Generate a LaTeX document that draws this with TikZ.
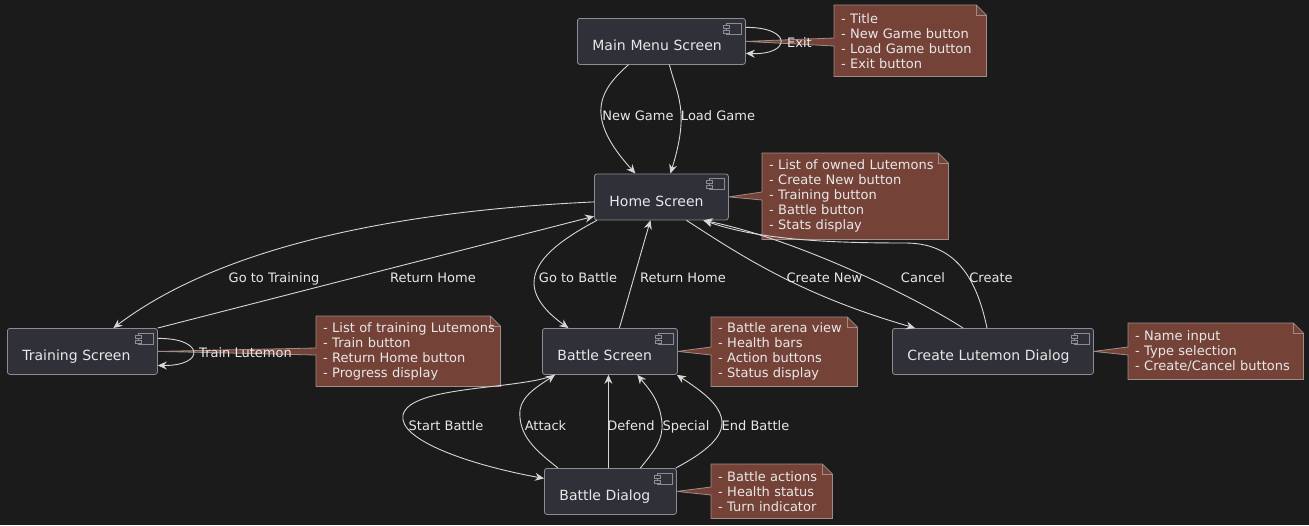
\documentclass[tikz,border=0pt]{standalone}
\usepackage{fontspec}
\setmainfont{DejaVu Sans}
\usetikzlibrary{arrows.meta,calc}
\definecolor{bgc}{RGB}{27,27,27}
\definecolor{compfill}{RGB}{48,48,56}
\definecolor{compline}{RGB}{140,140,148}
\definecolor{notefill}{RGB}{117,66,56}
\definecolor{noteline}{RGB}{160,140,135}
\definecolor{edgec}{RGB}{215,215,215}
\definecolor{txt}{RGB}{232,232,232}
\pgfdeclarelayer{bg}
\pgfsetlayers{bg,main}
\newcommand\compicon[1]{%
  \draw[icon] ($(#1.north east)+(-19,5)$) rectangle ($(#1.north east)+(-4,16)$);
  \draw[icon] ($(#1.north east)+(-22,7)$) rectangle ($(#1.north east)+(-16,10)$);
  \draw[icon] ($(#1.north east)+(-22,12)$) rectangle ($(#1.north east)+(-16,15)$);}
\newcommand\drawnote[4]{%
  \path[noteshape] (#1.north west) -- ($(#1.north east)+(-10,0)$) -- ($(#1.north east)+(0,10)$) -- (#1.south east) -- (#1.south west) -- ($(#1.north west)+(0,#4)$) -- (#2) -- ($(#1.north west)+(0,#3)$) -- cycle;
  \draw[noteshape, fill=none] ($(#1.north east)+(-10,0)$) -- ($(#1.north east)+(-10,10)$) -- ($(#1.north east)+(0,10)$);}
\begin{document}
\begin{tikzpicture}[x=1pt,y=-1pt,
 comp/.style={draw=compline, fill=compfill, line width=0.8pt, rounded corners=2.5pt, anchor=north west, inner xsep=15pt, inner ysep=0pt, minimum height=46pt, text height=19pt, text depth=0pt, align=left, text=txt, font=\fontsize{14}{17}\selectfont},
 notebox/.style={anchor=north west, inner xsep=7pt, inner ysep=0pt, align=left, text=txt, font=\fontsize{13}{15}\selectfont},
 noteshape/.style={fill=notefill, draw=noteline, line width=0.8pt},
 edge/.style={draw=edgec, line width=0.9pt, -{Stealth[length=9pt,width=8pt,inset=3pt]}},
 elabel/.style={anchor=base, text=txt, font=\fontsize{13}{15}\selectfont, inner sep=0pt},
 icon/.style={draw=compline, fill=compfill, line width=0.7pt}
]
\useasboundingbox (0,0) rectangle (1309,525);

% components
\node[comp, text width=138pt] (main) at (577,18) {Main Menu Screen};
\node[comp, text width=104pt] (home) at (594,173.5) {Home Screen};
\node[comp, text width=120pt] (train) at (7,328) {Training Screen};
\node[comp, text width=105pt] (battle) at (542,328) {Battle Screen};
\node[comp, text width=171pt] (create) at (892,328) {Create Lutemon Dialog};
\node[comp, text width=102pt] (dialog) at (544,468) {Battle Dialog};
\foreach \n in {main,home,train,battle,create,dialog} {\compicon{\n}}

% notes
\node[notebox, text width=138pt, minimum height=71pt] (n1) at (834,5)
 {\mbox{- Title}\\\mbox{- New Game button}\\\mbox{- Load Game button}\\\mbox{- Exit button}};
\node[notebox, text width=172pt, minimum height=86pt] (n2) at (762,153)
 {\mbox{- List of owned Lutemons}\\\mbox{- Create New button}\\\mbox{- Training button}\\\mbox{- Battle button}\\\mbox{- Stats display}};
\node[notebox, text width=170pt, minimum height=70pt] (n3) at (316,316)
 {\mbox{- List of training Lutemons}\\\mbox{- Train button}\\\mbox{- Return Home button}\\\mbox{- Progress display}};
\node[notebox, text width=132pt, minimum height=69pt] (n4) at (711,317)
 {\mbox{- Battle arena view}\\\mbox{- Health bars}\\\mbox{- Action buttons}\\\mbox{- Status display}};
\node[notebox, text width=161pt, minimum height=56pt] (n5) at (1128,323)
 {\mbox{- Name input}\\\mbox{- Type selection}\\\mbox{- Create/Cancel buttons}};
\node[notebox, text width=107pt, minimum height=54pt] (n6) at (711,464)
 {\mbox{- Battle actions}\\\mbox{- Health status}\\\mbox{- Turn indicator}};

\begin{pgfonlayer}{bg}
  \fill[bgc] (0,0) rectangle (1309,525);
  \drawnote{n1}{main.east}{33}{41}
  \drawnote{n2}{home.east}{39}{47}
  \drawnote{n3}{train.east}{32}{39}
  \drawnote{n4}{battle.east}{30}{38}
  \drawnote{n5}{create.east}{24}{32}
  \drawnote{n6}{dialog.east}{23}{31}
\end{pgfonlayer}

% edges
\draw[edge] ($(main.east)+(0,-14)$) .. controls (792,27) and (792,55) .. ($(main.east)+(0,12)$);
\draw[edge] ($(main.south)+(-33,0)$) .. controls (600,90) and (583,116) .. ($(home.north)+(-26,0)$);
\draw[edge] ($(main.south)+(8,0)$) .. controls (677,95) and (690,111) .. ($(home.north)+(9,0)$);
\draw[edge] ($(home.west)+(0,5)$) .. controls (420,210) and (230,240) .. ($(train.north)+(31,0)$);
\draw[edge] (train.north east) -- ($(home.south west)+(0,-4)$);
\draw[edge] ($(home.south west)+(3,0)$) .. controls (560,240) and (534,260) .. (534,283) .. controls (534,300) and (550,315) .. ($(battle.north)+(-41.5,0)$);
\draw[edge] ($(battle.north)+(9.5,0)$) -- ($(home.south)+(-11,0)$);
\draw[edge] ($(home.south)+(25,0)$) .. controls (740,255) and (800,295) .. ($(create.north west)+(23,0)$);
\draw[edge] ($(create.north west)+(71,0)$) .. controls (920,300) and (800,240) .. ($(home.south)+(42,0)$);
\draw[edge] ($(create.north west)+(95,0)$) .. controls (975,270) and (950,243) .. (905,243) .. controls (830,243) and (760,240) .. ($(home.south)+(42,0)$);
\draw[edge] ($(train.east)+(0,-13)$) .. controls (205,338) and (205,366) .. ($(train.east)+(0,14)$);
\draw[edge] ($(battle.south west)+(13,0)$) .. controls (520,390) and (410,385) .. (403,415) .. controls (398,440) and (470,465) .. ($(dialog.west)+(0,-13)$);
\draw[edge] ($(dialog.north west)+(14,0)$) .. controls (535,450) and (518,435) .. (520,410) .. controls (522,395) and (540,385) .. ($(battle.south west)+(13,0)$);
\draw[edge] ($(dialog.north)+(-2,0)$) -- ($(battle.south)+(-1.5,0)$);
\draw[edge] ($(dialog.north)+(30,0)$) .. controls (655,450) and (663,440) .. (662,423) .. controls (660,400) and (648,388) .. ($(battle.south)+(27.5,0)$);
\draw[edge] ($(dialog.north east)+(-1,0)$) .. controls (700,455) and (722,440) .. (722,423) .. controls (722,405) and (700,390) .. ($(battle.south east)+(-1,0)$);

% edge labels
\node[elabel] (lExit) at (799.5,47) {Exit};
\node[elabel] (lNew) at (638,120) {New Game};
\node[elabel] (lLoad) at (718,120) {Load Game};
\node[elabel] (lGoT) at (274,282) {Go to Training};
\node[elabel] (lRetT) at (433,282) {Return Home};
\node[elabel] (lGoB) at (578,282) {Go to Battle};
\node[elabel] (lRetB) at (683,282) {Return Home};
\node[elabel] (lCNew) at (824.5,282) {Create New};
\node[elabel] (lCancel) at (923,282) {Cancel};
\node[elabel] (lCreate) at (991,282) {Create};
\node[elabel] (lTrain) at (245.5,357) {Train Lutemon};
\node[elabel] (lStart) at (446,430) {Start Battle};
\node[elabel] (lAttack) at (545.5,430) {Attack};
\node[elabel] (lDefend) at (631,430) {Defend};
\node[elabel] (lSpecial) at (686,430) {Special};
\node[elabel] (lEnd) at (755.5,430) {End Battle};
\end{tikzpicture}
\end{document}
